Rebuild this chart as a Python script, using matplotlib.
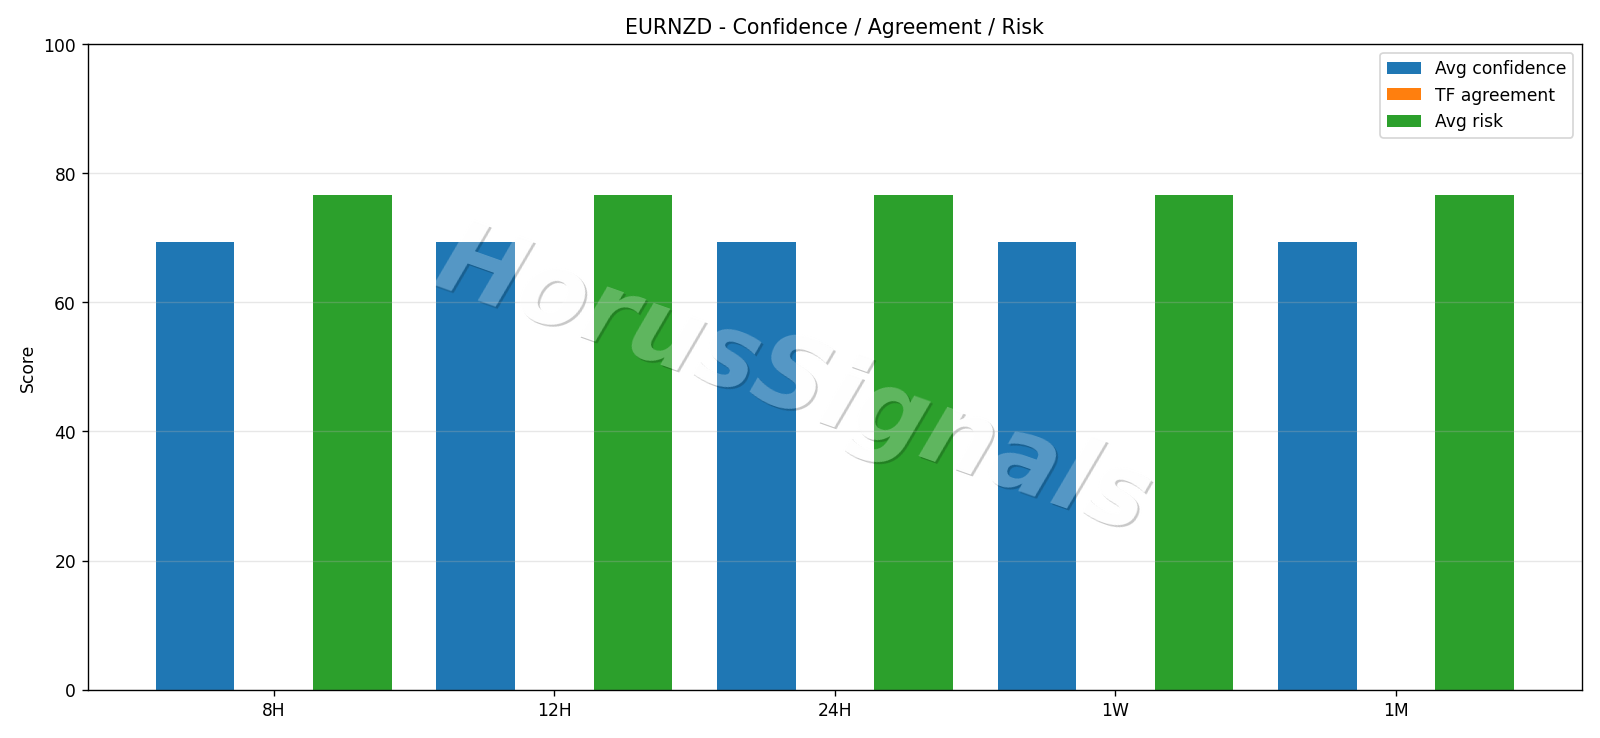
import numpy as np
import matplotlib
matplotlib.use("Agg")
import matplotlib.pyplot as plt
import matplotlib.transforms as mtransforms

# chart data
timeframes = ["8H", "12H", "24H", "1W", "1M"]
avg_confidence = [69.4, 69.4, 69.4, 69.4, 69.4]
tf_agreement = [0, 0, 0, 0, 0]
avg_risk = [76.7, 76.7, 76.7, 76.7, 76.7]

fig, ax = plt.subplots(figsize=(13, 6), dpi=123.08)

x = np.arange(len(timeframes))
w = 0.28
b1 = ax.bar(x - w, avg_confidence, w, label="Avg confidence", color="#1f77b4")
b2 = ax.bar(x, tf_agreement, w, label="TF agreement", color="#ff7f0e")
b3 = ax.bar(x + w, avg_risk, w, label="Avg risk", color="#2ca02c")

ax.set_xticks(x)
ax.set_xticklabels(timeframes)
ax.set_ylim(0, 100)
ax.set_ylabel("Score")
ax.set_title("EURNZD - Confidence / Agreement / Risk")
ax.grid(axis="y", alpha=0.3)
ax.legend(loc="upper right")
fig.tight_layout()

# watermark with a drop shadow that only shows outside the letters
wm_text = "HorusSignals"
wm_pos = (0.472, 0.476)
wm = dict(fontsize=59, fontweight="bold", style="italic", rotation=-19.5,
          ha="center", va="center", family="DejaVu Sans")
shadow_tr = mtransforms.offset_copy(ax.transAxes, fig=fig, x=2.5, y=-2.5, units="dots")

# on the background
ax.text(*wm_pos, wm_text, transform=shadow_tr, color="#c8c8c8", zorder=0.2, **wm)
ax.text(*wm_pos, wm_text, transform=ax.transAxes, color="white", zorder=0.3, **wm)

# on the bars: darker shadow, then the bar colour again inside the letters
for p in list(b1) + list(b3):
    t = ax.text(*wm_pos, wm_text, transform=shadow_tr, color="black", alpha=0.2,
                zorder=1.1, **wm)
    t.set_clip_on(True)
    t.set_clip_path(p)
    t = ax.text(*wm_pos, wm_text, transform=ax.transAxes, color=p.get_facecolor(),
                zorder=1.2, **wm)
    t.set_clip_on(True)
    t.set_clip_path(p)

ax.text(*wm_pos, wm_text, transform=ax.transAxes, color="white",
        alpha=0.25, zorder=3, **wm)

fig.savefig("out.png")
